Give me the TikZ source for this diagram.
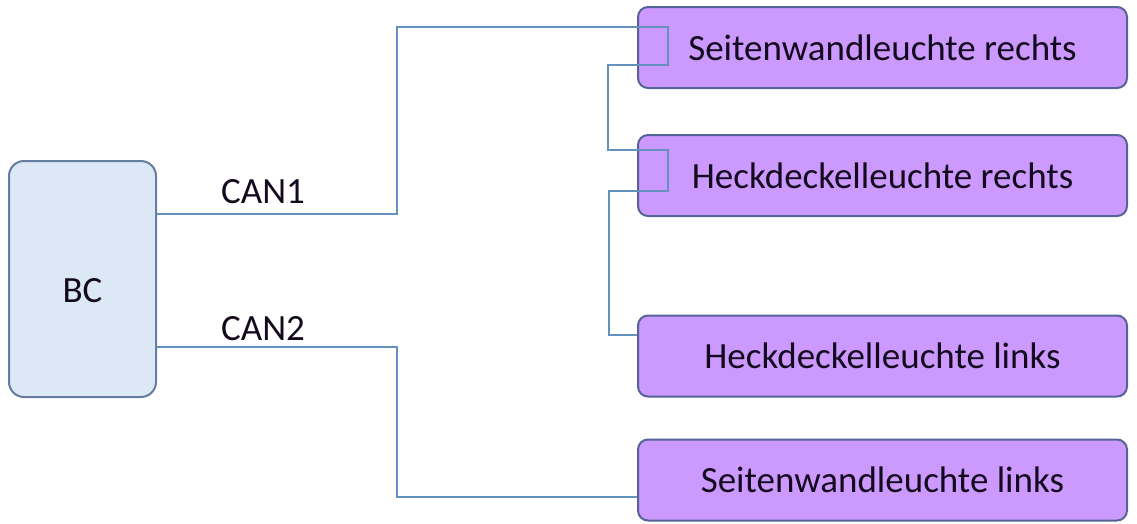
\documentclass[tikz,border=0pt]{standalone}
\usepackage{fontspec}
\setmainfont{Carlito}
\definecolor{lineblue}{RGB}{100,145,190}
\definecolor{boxborder}{RGB}{85,100,150}
\definecolor{boxfill}{RGB}{204,153,255}
\definecolor{bcfill}{RGB}{220,232,245}
\definecolor{bcborder}{RGB}{100,125,160}
\definecolor{txt}{RGB}{20,10,30}
\begin{document}
\begin{tikzpicture}[x=1pt,y=-1pt,
  lamp/.style={draw=boxborder,fill=boxfill,line width=2pt,rounded corners=10pt,
    minimum width=489pt,minimum height=81pt,inner sep=0pt,text=txt,
    font=\fontsize{37}{40}\selectfont},
  ctrl/.style={draw=bcborder,fill=bcfill,line width=2pt,rounded corners=15pt,
    minimum width=147pt,minimum height=236pt,inner sep=0pt},
  lbl/.style={text=txt,font=\fontsize{37}{40}\selectfont,inner sep=0pt},
  bus/.style={draw=lineblue,line width=2pt}]
\useasboundingbox (0,0) rectangle (1137,523);
\node[ctrl] (bc) at (82.5,279) {};
\node[lbl,anchor=base] (bct) at (82.5,302) {BC};
\node[lamp] (s1) at (882.5,47.5) {Seitenwandleuchte rechts};
\node[lamp] (h1) at (882.5,175.5) {Heckdeckelleuchte rechts};
\node[lamp] (h2) at (882.5,356) {Heckdeckelleuchte links};
\node[lamp] (s2) at (882.5,480) {Seitenwandleuchte links};
\node[lbl,anchor=base] (c1) at (263,203) {CAN1};
\node[lbl,anchor=base] (c2) at (263,340) {CAN2};
\coordinate (a1) at (397,214);
\coordinate (a2) at (397,347);
\draw[bus] (bc.east |- a1) -- (a1) -- (397,27) -- (668,27) -- (668,65)
  -- (608,65) -- (608,150) -- (668,150) -- (668,191) -- (609,191)
  -- (609,335) -- (h2.west |- 0,335);
\draw[bus] (bc.east |- a2) -- (a2) -- (397,497) -- (s2.west |- 0,497);
\end{tikzpicture}
\end{document}
